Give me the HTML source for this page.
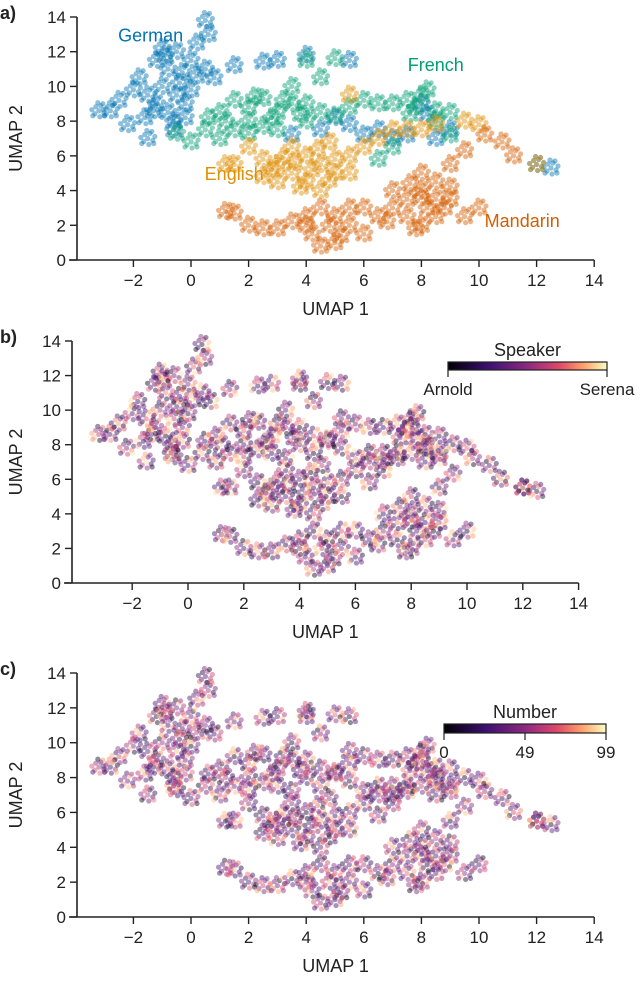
<!DOCTYPE html>
<html><head><meta charset="utf-8"><style>
body{margin:0;background:#fff;}
svg text{font-family:"Liberation Sans",sans-serif;fill:#222;}
</style></head><body>
<svg id="s" width="640" height="979" xmlns="http://www.w3.org/2000/svg">
<defs>
<linearGradient id="magma" x1="0" x2="1" y1="0" y2="0">
<stop offset="0" stop-color="#000004"/><stop offset="0.25" stop-color="#3b0f70"/><stop offset="0.5" stop-color="#8c2981"/><stop offset="0.7" stop-color="#de4968"/><stop offset="0.85" stop-color="#fe9f6d"/><stop offset="1" stop-color="#fcfdbf"/>
</linearGradient>
</defs>
</svg>
<script>
const xTicks=[-2,0,2,4,6,8,10,12,14];
const yTicks=[0,2,4,6,8,10,12,14];
const languages=["German","French","English","Mandarin"];
const langColors=["#0173b2","#029e73","#de8f05","#d55e00"];
const germanPts=[[-3.2,8.6],[-2.8,8.6],[-2.5,9.2],[-2.2,7.8],[-1.8,10.5],[-1.5,9.5],[-1.5,7.0],[-1.2,11.5],[-1.0,10.0],[-0.8,8.5],[-0.8,11.0],[-0.5,12.0],[-0.5,9.5],[-0.3,10.8],[-0.2,8.2],[0,11.5],[0,9.8],[0.2,12.5],[0.5,11.0],[0.5,13.8],[0.6,13.0],[-1.3,8.6],[-0.6,7.5],[1.5,11.2],[2.5,11.4],[3,11.5],[4,11.8],[5.5,11.5],[5,8.2],[4.5,7.5],[6,7.2],[7,7.0],[8,9.0],[8.5,7.0],[9,7.5],[12,5.5],[12.5,5.3],[-1,12.2],[-2,9.8],[0.8,10.5],[-1.2,9.0],[-0.4,10.2],[-0.9,11.8],[-0.2,9.0],[-1.6,8.2],[-0.6,8.0],[0.2,10.6],[5.5,7.8],[6.5,7.5],[7.5,7.2],[8.2,8.4],[3.5,7.2]];
const frenchPts=[[-0.5,7.3],[0,6.8],[0.5,7.5],[1,8.5],[1.5,9.2],[2,8.8],[2.5,9.3],[3,8.5],[3.5,9.0],[4,8.0],[2.5,7.7],[1.5,7.5],[3,7.5],[4.5,8.5],[5,8.3],[3.5,10],[4.5,10.5],[5,11.6],[4,11.5],[6,9.2],[6.5,9.0],[7,9.0],[7.5,9.2],[8,9.5],[8.5,8.6],[9,7.2],[8.5,8.0],[7,6.5],[6.5,5.8],[2,8.0],[1,7.0],[5.5,8.8],[9,8.5],[7.8,8.8],[1.2,8.0],[2.2,9.4],[3.2,9.2],[4,9.0],[2.8,8.2],[3.8,8.4],[2,7.3],[0.6,8.2],[8.2,9.8],[7.6,8.4]];
const englishPts=[[1.2,5.5],[1.5,5.5],[2,6.5],[2.5,5.8],[3,5.5],[3.5,5.0],[3,4.5],[4,4.5],[4.5,5.5],[4.5,4.0],[5,5.0],[4,6.0],[5.5,6.0],[5.5,5.0],[6,6.5],[6.5,7],[7,7.5],[7.5,7.5],[8,7.5],[8.5,7.8],[9.5,8.0],[10,7.8],[3.5,6.5],[2.5,4.8],[4.8,6.8],[3.8,4.2],[12,5.5],[5.5,9.5],[3.2,5.9],[4.2,5.2],[3.6,5.6],[4.8,4.6],[2.8,5.2],[4.4,6.4],[5,5.8]];
const mandarinPts=[[1.2,2.8],[1.5,2.7],[2,2.0],[2.5,1.8],[3,1.8],[3.5,2.2],[4,2.5],[4.2,1.5],[4.5,3.0],[4.5,0.8],[5,1.0],[5,2.5],[5.5,2.0],[6,1.5],[5.5,3.0],[6,3.0],[6.5,2.5],[7,3.0],[7.5,2.5],[7.5,3.5],[8,4.0],[8,5.0],[8.5,3.5],[8.5,4.5],[9,3.5],[9,5.5],[8,2.0],[9.5,2.5],[10,3.0],[10.2,7.2],[10.8,6.8],[11.2,6.0],[9.5,6.3],[7,4.0],[8.5,2.5],[7.8,1.8],[8.2,3.0],[7.6,4.4],[8.8,3.0],[8,3.6],[9,4.2],[4.8,2.0],[5.2,1.4],[6.8,2.2],[4,2.0]];
const speakerVals=[0.1,0.6,0.3,0.85,0.45,0.2,0.7,0.95,0.35,0.55,0.05,0.8,0.4,0.65,0.25,0.9,0.5,0.15,0.75,0.3];
const numberVals=[0.3,0.55,0.2,0.7,0.4,0.85,0.35,0.6,0.1,0.5,0.75,0.25,0.45,0.9,0.3,0.65,0.4,0.05,0.8,0.5];
const allPts=[germanPts,frenchPts,englishPts,mandarinPts];
// fixed dot-spray pattern (pixel offsets) used to render each point's cloud
const spray=[[0,0],[5,2],[-4,3],[2,-5],[-3,-4],[7,-2],[-7,-1],[1,6],[-1,-8],[6,5],[-6,5],[4,-7]];

const NS="http://www.w3.org/2000/svg";
const svg=document.getElementById('s');
function mk(t,a,p){const e=document.createElementNS(NS,t);for(const k in a)e.setAttribute(k,a[k]);(p||svg).appendChild(e);return e;}
const magma=[[0,[0,0,4]],[0.25,[59,15,112]],[0.5,[140,41,129]],[0.7,[222,73,104]],[0.85,[254,159,109]],[1,[252,253,191]]];
function cmap(v){for(let i=1;i<magma.length;i++){if(v<=magma[i][0]){const a=magma[i-1],b=magma[i];const t=(v-a[0])/(b[0]-a[0]);const c=a[1].map((q,j)=>Math.round(q+(b[1][j]-q)*t));return `rgb(${c})`;}}return 'rgb(252,253,191)';}

function panel(P,mode,letter){
  const g=mk('g',{});
  
  
  const X=v=>P.x0+P.sx*v, Y=v=>P.y0-(P.y0-P.y14)*v/14;
  const lab=mk('text',{x:0,y:P.y14+2,'font-size':18,'font-weight':'bold'},g);lab.textContent=letter+')';
  
  
  let k=0;
  allPts.forEach((pts,li)=>{
    pts.forEach(p=>{
      let col;
      if(mode==='lang')col=langColors[li];
      else if(mode==='speaker')col=cmap(speakerVals[k%speakerVals.length]);
      else col=cmap(numberVals[k%numberVals.length]);
      k++;
      spray.forEach((o,j)=>{
        let c=col;
        if(mode!=='lang')c=cmap((mode==='speaker'?speakerVals:numberVals)[(k+j*7)%20]);
        const d=mk('circle',{cx:X(p[0])+o[0],cy:Y(p[1])+o[1],r:2.6,fill:c,opacity:0.45},g);
        
        
      });
    });
  });
  // axes
  const ya=mk('line',{x1:P.ax,x2:P.ax,y1:P.y14,y2:P.y0,stroke:'#222','stroke-width':1.6},g);
  
  
  const xa=mk('line',{x1:P.ax-8,x2:X(14),y1:P.y0,y2:P.y0,stroke:'#222','stroke-width':1.6},g);
  
  
  yTicks.forEach(t=>{mk('line',{x1:P.ax-7,x2:P.ax,y1:Y(t),y2:Y(t),stroke:'#222','stroke-width':1.4},g);
    const tx=mk('text',{x:P.ax-11,y:Y(t)+6,'font-size':17,'text-anchor':'end'},g);tx.textContent=t;
    
    });
  xTicks.forEach(t=>{mk('line',{x1:X(t),x2:X(t),y1:P.y0,y2:P.y0+7,stroke:'#222','stroke-width':1.4},g);
    const tx=mk('text',{x:X(t),y:P.y0+26,'font-size':17,'text-anchor':'middle'},g);tx.textContent=(t<0?'\u2212'+(-t):t);
    
    });
  const xl=mk('text',{x:(P.ax+X(14))/2,y:P.y0+55,'font-size':18,'text-anchor':'middle'},g);xl.textContent='UMAP 1';
  
  
  const ym=(P.y0+P.y14)/2;
  const yl=mk('text',{x:22,y:ym,'font-size':18,'text-anchor':'middle',transform:`rotate(-90 22 ${ym})`},g);yl.textContent='UMAP 2';
  
  
  return {X,Y,g};
}
const A=panel({x0:191,sx:28.8,y0:260,y14:17,ax:77},'lang','a');
const lp=[[-1.4,12.6],[8.5,10.9],[1.5,4.6],[11.5,1.9]];
languages.forEach((l,i)=>{const t=mk('text',{x:A.X(lp[i][0]),y:A.Y(lp[i][1]),'font-size':18,'text-anchor':'middle',fill:langColors[i]},A.g);t.textContent=l;t.style.fill=langColors[i];
  
  });
const B=panel({x0:188,sx:27.9,y0:583,y14:341,ax:72},'speaker','b');
const C=panel({x0:191,sx:28.8,y0:917,y14:673,ax:77},'number','c');
function cbar(g,x1,x2,y,h,title,labels,pos){
  const t=mk('text',{x:(x1+x2)/2,y:y-6,'font-size':18,'text-anchor':'middle'},g);t.textContent=title;
  
  
  const r=mk('rect',{x:x1,y:y,width:x2-x1,height:h,fill:'url(#magma)',stroke:'#222','stroke-width':1.2},g);
  
  
  labels.forEach((l,i)=>{const xx=x1+(x2-x1)*pos[i];mk('line',{x1:xx,x2:xx,y1:y+h,y2:y+h+7,stroke:'#222','stroke-width':1.2},g);
    const tx=mk('text',{x:xx,y:y+h+25,'font-size':17,'text-anchor':'middle'},g);tx.textContent=l;
    
    });
}
cbar(B.g,448,607,362,8,'Speaker',['Arnold','Serena'],[0,1]);
cbar(C.g,444,606,724,9,'Number',['0','49','99'],[0,0.5,1]);
</script>
</body></html>
